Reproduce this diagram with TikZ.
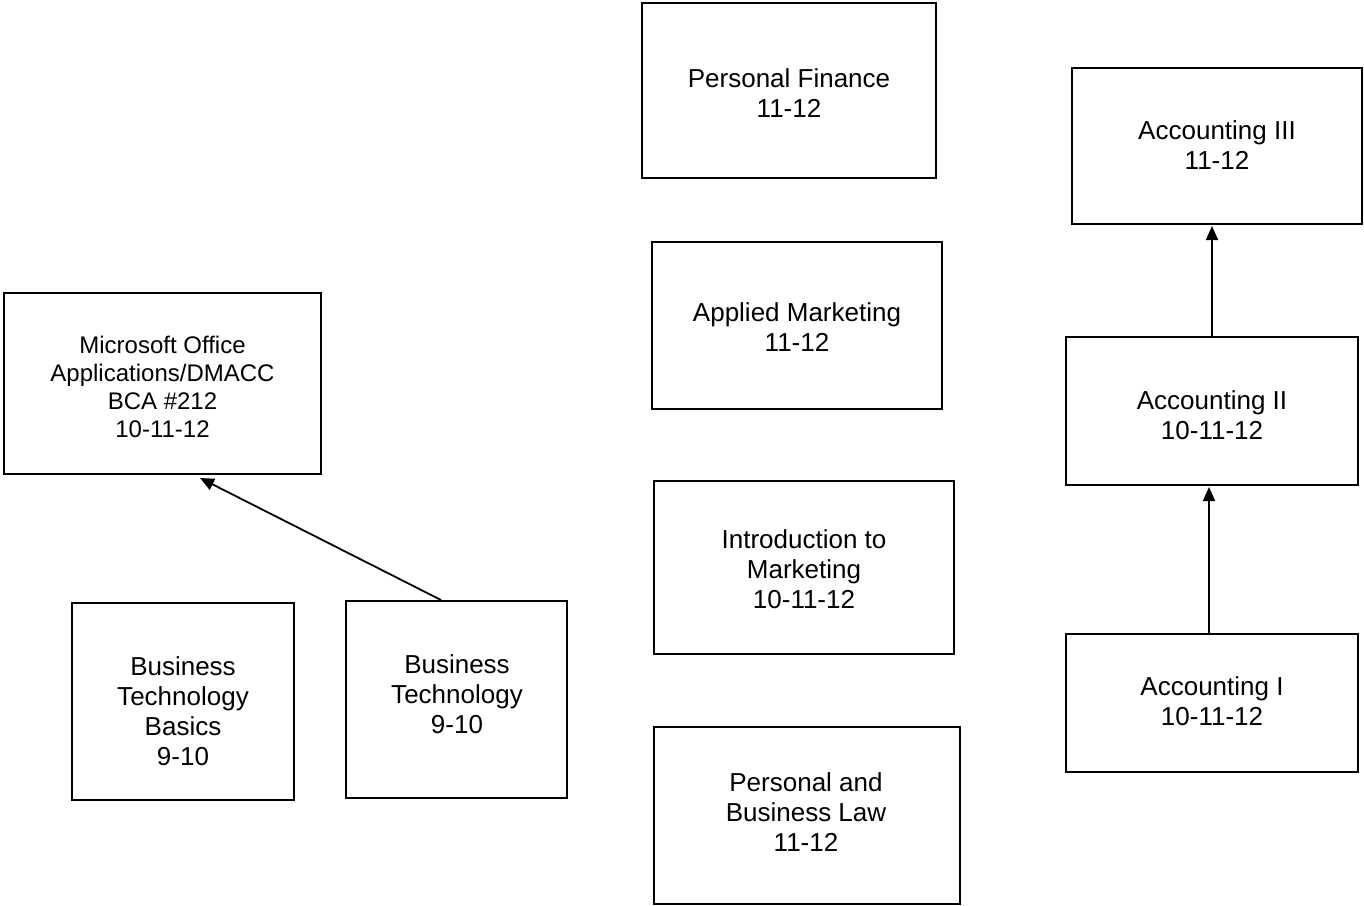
\documentclass[tikz,border=0pt]{standalone}
\usepackage{fontspec}
\setmainfont{Liberation Sans}
\usetikzlibrary{arrows.meta}
\begin{document}
\begin{tikzpicture}[x=1pt,y=-1pt,
  box/.style={draw, line width=2pt, inner sep=0pt},
  lbl/.style={align=center, font=\fontsize{26}{30}\selectfont, inner sep=0pt},
  lblsmall/.style={align=center, font=\fontsize{24}{28}\selectfont, inner sep=0pt},
  conn/.style={line width=1.8pt, -{Triangle[length=14pt,width=12pt]}}]
\useasboundingbox (0,0) rectangle (1364,905);
% boxes
\node[box, minimum width=294pt, minimum height=175pt] (pf) at (789,90.5) {};
\node[box, minimum width=290pt, minimum height=167pt] (am) at (797,325.5) {};
\node[box, minimum width=300pt, minimum height=173pt] (im) at (804,567.5) {};
\node[box, minimum width=306pt, minimum height=177pt] (pbl) at (807,815.5) {};
\node[box, minimum width=290pt, minimum height=156pt] (a3) at (1217,146) {};
\node[box, minimum width=292pt, minimum height=148pt] (a2) at (1212,411) {};
\node[box, minimum width=292pt, minimum height=138pt] (a1) at (1212,703) {};
\node[box, minimum width=317pt, minimum height=181pt] (ms) at (162.5,383.5) {};
\node[box, minimum width=222pt, minimum height=197pt] (btb) at (183,701.5) {};
\node[box, minimum width=221pt, minimum height=197pt] (bt) at (456.5,699.5) {};
% texts
\node[lbl] (tpf) at (789,93) {Personal Finance\\11-12};
\node[lbl] (tam) at (797,327) {Applied Marketing\\11-12};
\node[lbl] (tim) at (804,569) {Introduction to\\Marketing\\10-11-12};
\node[lbl] (tpbl) at (806,812) {Personal and\\Business Law\\11-12};
\node[lbl] (ta3) at (1217,145) {Accounting III\\11-12};
\node[lbl] (ta2) at (1212,415) {Accounting II\\10-11-12};
\node[lbl] (ta1) at (1212,701) {Accounting I\\10-11-12};
\node[lblsmall] (tms) at (162.5,387) {Microsoft Office\\Applications/DMACC\\BCA \#212\\10-11-12};
\node[lbl] (tbtb) at (183,711) {Business\\Technology\\Basics\\9-10};
\node[lbl] (tbt) at (457,694) {Business\\Technology\\9-10};
% connectors
\draw[conn] ([xshift=-15.5pt]bt.north) -- ([xshift=37.5pt,yshift=-3pt]ms.south);
\draw[conn] ([xshift=-3pt]a1.north) -- ([xshift=-3pt,yshift=-1pt]a2.south);
\draw[conn] (a2.north) -- ([xshift=-5pt,yshift=-1pt]a3.south);
\end{tikzpicture}
\end{document}
